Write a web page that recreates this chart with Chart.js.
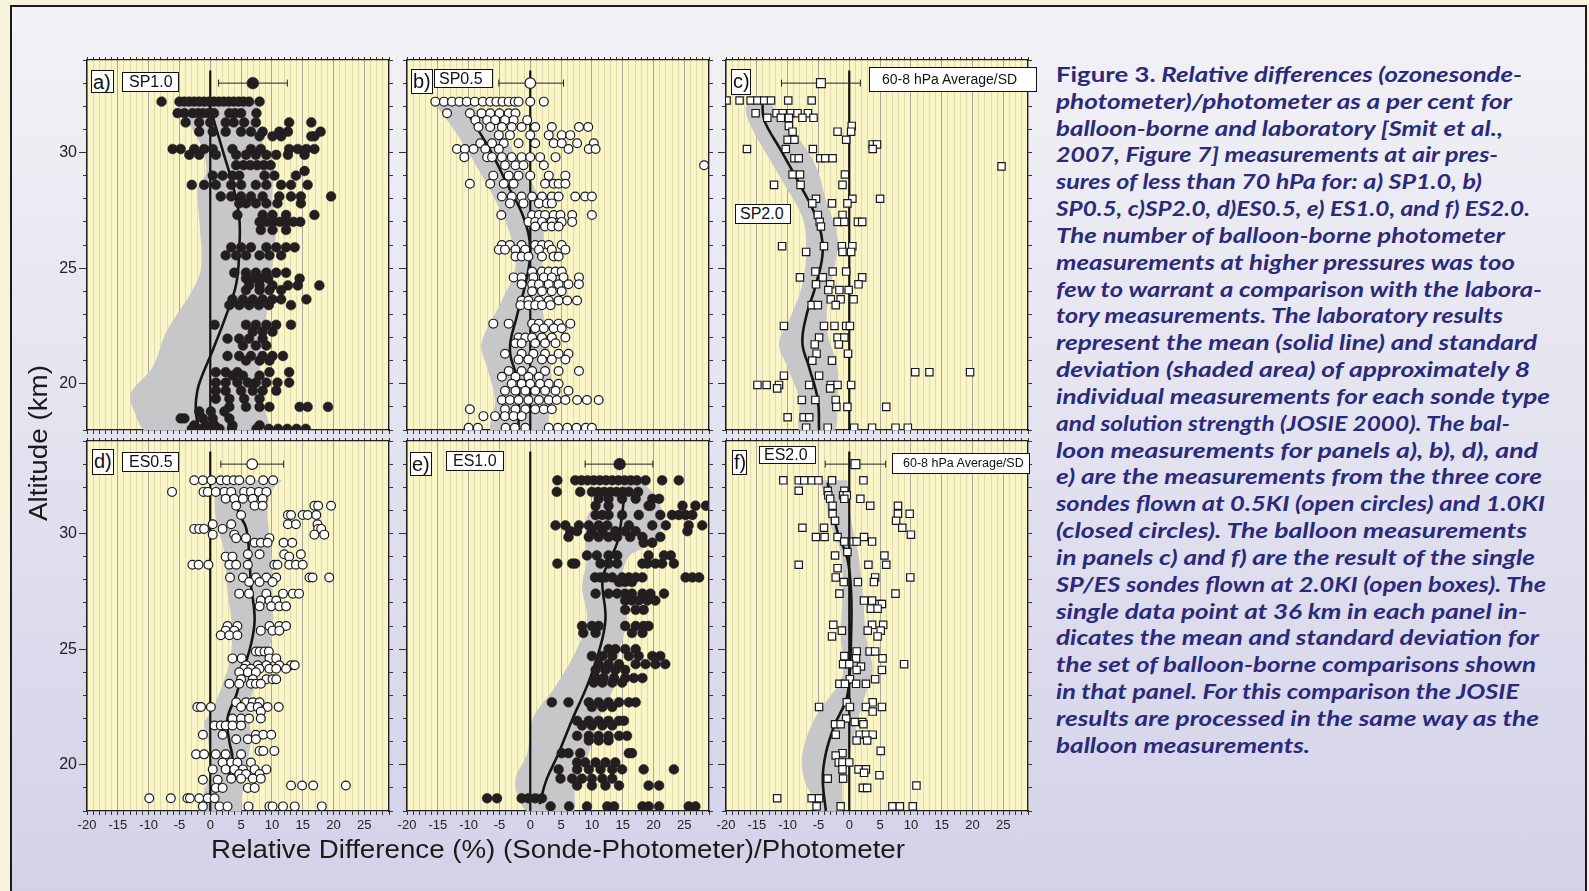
<!DOCTYPE html>
<html>
<head>
<meta charset="utf-8">
<script src="https://cdn.jsdelivr.net/npm/chart.js@4.4.1/dist/chart.umd.min.js"></script>
<style>
  html, body { margin: 0; padding: 0; }
  body {
    width: 1589px; height: 891px; position: relative; overflow: hidden;
    background: #f6f5dc; font-family: "Liberation Sans", Arial, sans-serif;
  }
  #frame {
    position: absolute; left: 10px; top: 5px; width: 1573px; height: 900px;
    border: 2px solid #1c1c1c;
    background: linear-gradient(180deg, #f2f2f6 0%, #e4e3f0 45%, #d3d1e8 100%);
  }
  canvas { position: absolute; z-index: 1; }
  .lbl {
    position: absolute; z-index: 5; box-sizing: border-box; background: #fff;
    border: 1.5px solid #111; color: #111; font-size: 16px; line-height: 1;
    padding: 1px 0 0 6px; white-space: nowrap;
  }
  .tag { font-size: 20px; padding: 1px 0 0 1px; }
  .axt { position: absolute; z-index: 2; font-size: 26px; line-height: 1; color: #1a1a1a; white-space: nowrap; }
  .axt span { display: inline-block; transform-origin: 0 50%; }
  #caption {
    position: absolute; left: 1056px; top: 61px; z-index: 2;
    font-family: Lato, "Open Sans", sans-serif; font-weight: 700; font-style: italic;
    font-size: 21px; line-height: 26.84px; color: #2a2a7b;
  }
  #caption .ln { white-space: nowrap; height: 26.84px; }
  #caption .ln span { display: inline-block; transform-origin: 0 50%; }
  #caption .up { font-style: normal; }
</style>
</head>
<body>
<div id="frame"></div>

<!-- panel tags -->
<div class="lbl tag" style="left:91px;top:70px;width:23px;height:23px;">a)</div>
<div class="lbl" style="left:122px;top:72px;width:57px;height:20px;">SP1.0</div>
<div class="lbl tag" style="left:411px;top:69px;width:22px;height:25px;">b)</div>
<div class="lbl" style="left:434px;top:69px;width:59px;height:19px;padding-left:4px;">SP0.5</div>
<div class="lbl tag" style="left:731px;top:69px;width:20px;height:26px;">c)</div>
<div class="lbl" style="left:869px;top:67px;width:168px;height:25px;font-size:14px;padding:4px 0 0 12px;">60-8 hPa Average/SD</div>
<div class="lbl" style="left:735px;top:204px;width:56px;height:20px;padding-left:4px;">SP2.0</div>
<div class="lbl tag" style="left:92px;top:449px;width:22px;height:26px;">d)</div>
<div class="lbl" style="left:122px;top:452px;width:57px;height:20px;">ES0.5</div>
<div class="lbl tag" style="left:410px;top:452px;width:22px;height:24px;">e)</div>
<div class="lbl" style="left:446px;top:451px;width:58px;height:20px;">ES1.0</div>
<div class="lbl tag" style="left:732px;top:450px;width:15px;height:25px;">f)</div>
<div class="lbl" style="left:759px;top:446px;width:57px;height:18px;padding:0 0 0 4px;">ES2.0</div>
<div class="lbl" style="left:892px;top:453px;width:138px;height:21px;font-size:12.5px;padding:3px 0 0 10px;">60-8 hPa Average/SD</div>

<!-- axis titles: rotated one is built horizontally then turned -->
<div id="ytitle" class="axt" style="left:25px;top:443px;transform-origin:0 0;transform:rotate(-90deg) translate(-78px,0);"><span>Altitude (km)</span></div>
<div id="xtitle" class="axt" style="left:211px;top:836px;"><span>Relative Difference (%) (Sonde-Photometer)/Photometer</span></div>

<div id="caption">
<div class="ln"><span><span class="up">Figure 3.</span> Relative differences (ozonesonde-</span></div>
<div class="ln"><span>photometer)/photometer as a per cent for</span></div>
<div class="ln"><span>balloon-borne and laboratory [Smit et al.,</span></div>
<div class="ln"><span>2007, Figure 7] measurements at air pres-</span></div>
<div class="ln"><span>sures of less than 70 hPa for: a) SP1.0, b)</span></div>
<div class="ln"><span>SP0.5, c)SP2.0, d)ES0.5, e) ES1.0, and f) ES2.0.</span></div>
<div class="ln"><span>The number of balloon-borne photometer</span></div>
<div class="ln"><span>measurements at higher pressures was too</span></div>
<div class="ln"><span>few to warrant a comparison with the labora-</span></div>
<div class="ln"><span>tory measurements. The laboratory results</span></div>
<div class="ln"><span>represent the mean (solid line) and standard</span></div>
<div class="ln"><span>deviation (shaded area) of approximately 8</span></div>
<div class="ln"><span>individual measurements for each sonde type</span></div>
<div class="ln"><span>and solution strength (JOSIE 2000). The bal-</span></div>
<div class="ln"><span>loon measurements for panels a), b), d), and</span></div>
<div class="ln"><span>e) are the measurements from the three core</span></div>
<div class="ln"><span>sondes flown at 0.5KI (open circles) and 1.0KI</span></div>
<div class="ln"><span>(closed circles). The balloon measurements</span></div>
<div class="ln"><span>in panels c) and f) are the result of the single</span></div>
<div class="ln"><span>SP/ES sondes flown at 2.0KI (open boxes). The</span></div>
<div class="ln"><span>single data point at 36 km in each panel in-</span></div>
<div class="ln"><span>dicates the mean and standard deviation for</span></div>
<div class="ln"><span>the set of balloon-borne comparisons shown</span></div>
<div class="ln"><span>in that panel. For this comparison the JOSIE</span></div>
<div class="ln"><span>results are processed in the same way as the</span></div>
<div class="ln"><span>balloon measurements.</span></div>
</div>

<script>
// =====================
// AXES
// =====================
const X_MIN = -20, X_MAX = 29;
const Y_MIN = 18, Y_MAX = 34;
const ERR_ALT = 33.0;   // altitude of the summary point (mean/SD)
const ZERO_TOP = 33.55;

// ---------- PANEL a) SP1.0 (closed circles) ----------
// [altitude km, [relative differences %]]
const ptsA = [
  [32.2, [-7.9, -5.0, -4.2, -3.4, -2.6, -1.8, -1.0, -0.2, 0.6, 1.4, 2.2, 3.0, 3.8, 4.6, 5.4, 6.3, 8.0]],
  [31.7, [-5.3, -4.2, -2.9, -2.0, -1.2, -0.3, 0.6, 3.1, 4.0, 5.0, 7.5]],
  [31.3, [-4.0, -1.8, 0.0, 2.5, 3.8, 5.5, 7.4, 12.8, 16.4]],
  [30.9, [-1.8, 0.4, 2.5, 5.0, 6.6, 8.5, 11.2, 12.6, 17.9]],
  [30.7, [8.0, 10.1, 11.5, 16.4, 16.9]],
  [30.15, [-6.1, -4.8, -2.6, -1.0, 0.4, 3.6, 6.6, 8.2, 12.8, 14.2, 15.6, 16.9]],
  [29.9, [-3.4, -1.8, 0.9, 4.2, 5.8, 7.4, 9.1, 10.7, 12.6, 15.3]],
  [29.45, [4.2, 5.4, 6.5, 7.6, 8.7, 9.8]],
  [29.2, [15.3]],
  [29.0, [0.4, 2.0, 3.6, 4.7, 8.8, 10.4, 13.9]],
  [28.6, [-3.0, -1.0, 0.9, 3.4, 5.0, 7.4, 9.1, 11.5, 13.1, 15.8]],
  [28.1, [1.7, 3.4, 5.0, 6.6, 8.5, 11.2, 13.1, 14.7, 19.6]],
  [27.8, [4.7, 5.8, 7.4, 9.1, 10.9, 14.7]],
  [27.3, [4.4, 8.5, 10.1, 12.3, 16.9]],
  [27.0, [8.0, 9.1, 10.2, 11.3, 12.4, 13.5, 14.6]],
  [26.65, [8.2, 10.1, 12.3]],
  [25.9, [3.4, 5.0, 6.6, 9.1, 10.7, 12.3, 13.7]],
  [25.55, [2.5, 4.2, 5.8, 8.0, 9.6, 11.5]],
  [24.8, [3.9, 5.8, 7.4, 9.1, 10.7, 12.3]],
  [24.55, [5.8, 7.0, 8.2, 9.4, 14.5]],
  [24.25, [6.3, 8.0, 10.1, 12.6, 14.2, 17.7]],
  [24.05, [5.8, 8.0, 9.6, 11.5]],
  [23.65, [3.6, 5.3, 6.9, 8.5, 10.1, 11.5, 15.6]],
  [23.4, [3.1, 4.7, 6.3, 7.9, 9.5, 13.1]],
  [22.55, [0.7, 5.8, 7.4, 9.1, 10.7, 13.1]],
  [22.25, [6.9, 8.5, 10.1]],
  [21.95, [2.8, 4.7, 6.3, 8.5]],
  [21.65, [5.3, 7.4, 9.1]],
  [21.2, [2.8, 4.7, 6.6, 8.5, 10.1, 11.8]],
  [21.0, [5.8, 8.0, 9.6]],
  [20.5, [0.9, 2.5, 4.4, 9.6, 12.8]],
  [20.35, [3.6, 5.3, 8.0]],
  [20.05, [0.9, 2.5, 4.4, 6.1, 7.4, 9.1, 10.9, 12.8]],
  [19.7, [0.9, 2.5, 5.0, 6.9, 8.5, 10.7]],
  [19.35, [0.9, 3.1, 5.5, 8.0]],
  [19.0, [3.1, 5.8, 8.0, 9.6, 14.5, 15.8, 19.1]],
  [18.8, [-1.8, 0.1, 2.3]],
  [18.5, [-4.8, -4.2, -1.2, 0.4, 3.1]],
  [18.2, [-2.6, -0.7, 0.7, 3.6, 8.0]],
  [18.05, [-3.0, -1.5, 0.5, 1.5, 3.5, 7.5, 9.5, 11.0, 12.5, 14.0, 15.5]],
];
const meanA = [[-0.2, 32.1], [2.0, 30.1], [3.6, 28.65], [4.7, 27.2], [4.7, 25.8], [4.2, 24.3], [2.5, 22.9], [0.4, 21.45], [-1.8, 20.0], [-2.3, 19.3], [-2.3, 18.7], [-1.8, 18.0]];
const bandLA = [[-5.9, 32.2], [-2.9, 31.0], [-1.2, 30.1], [-0.7, 29.1], [-2.1, 28.4], [-1.8, 27.2], [-1.5, 25.05], [-2.9, 24.05], [-7.2, 22.2], [-9.4, 20.7], [-12.9, 19.6], [-12.6, 19.0], [-10.0, 17.9]];
const bandRA = [[7.7, 32.2], [8.0, 30.8], [10.1, 29.4], [10.1, 27.9], [10.7, 26.9], [10.1, 25.05], [9.1, 22.9], [8.0, 20.7], [8.5, 19.3], [9.0, 17.9]];
const errA = [6.9, 1.35, 12.5]; // mean, mean-SD, mean+SD

// ---------- PANEL b) SP0.5 (open circles) ----------
const ptsB = [
  [32.2, [-15.4, -14.0, -12.7, -11.5, -10.3, -9.0, -7.7, -6.5, -5.5, -4.5, -3.5, -2.5, -1.9, 0.0, 2.2]],
  [31.7, [-13.5, -9.8, -7.9, -6.5, -5.0, -3.5, -2.4]],
  [31.4, [-8.9, -7.0, -5.7, -4.1, -2.7, -0.5]],
  [31.1, [-8.4, -6.5, -4.6, -3.0, -1.4, 0.8, 3.5, 7.9, 9.4]],
  [30.75, [-5.1, -3.3, 0.0, 3.0, 5.1, 6.5]],
  [30.4, [-8.1, -6.2, -4.3, -1.9, 0.8, 3.8, 5.1, 7.6, 10.3]],
  [30.15, [-11.9, -10.6, -9.2, -7.3, -5.1, 6.2, 9.5, 10.6]],
  [29.8, [-10.7, -7.0, -6.2, -4.6, -3.0, -1.4, 0.0, 1.6, 4.1]],
  [29.45, [-4.1, -2.4, -1.1, 2.2, 28.2]],
  [29.0, [-6.0, -3.5, -1.9, 0.0, 3.0, 5.7]],
  [28.65, [-9.8, -6.5, -4.3, -2.7, 2.4, 3.8, 4.6, 5.7]],
  [28.1, [-4.6, -3.0, -1.4, 0.3, 1.9, 3.5, 4.6, 7.3, 8.9, 10.0]],
  [27.8, [-3.3, -1.1, 1.4, 2.7, 3.5]],
  [27.3, [-4.7, 0.3, 1.4, 2.4, 3.8, 4.9, 6.8, 10.0]],
  [27.0, [-0.3, 0.8, 1.9, 3.5, 5.1, 6.8]],
  [26.8, [0.8, 2.4, 3.5, 4.6]],
  [26.0, [-4.6, -3.3, -1.4, 0.8, 1.9, 3.0, 5.1]],
  [25.8, [-5.1, -4.1, -2.4, -0.8, 1.4, 3.5, 5.7]],
  [25.5, [-2.4, -1.4, -0.3, 1.9, 3.8, 4.6]],
  [24.85, [0.3, 1.9, 3.0, 4.1, 5.1]],
  [24.6, [-2.7, -1.4, 0.5, 2.2, 3.5, 5.4, 7.9]],
  [24.3, [-1.4, 0.3, 1.4, 3.0, 4.6, 6.2, 7.9]],
  [24.0, [0.3, 1.9, 3.5, 5.1]],
  [23.6, [-1.4, -0.3, 1.4, 3.0, 4.6, 6.0, 7.6]],
  [23.4, [-1.6, -0.3, 0.8, 1.9, 3.3]],
  [22.6, [-6.0, -3.5, 0.3, 1.4, 3.0, 4.6, 6.5]],
  [22.4, [0.8, 2.2, 3.8, 5.1]],
  [22.0, [-1.9, -0.8, 0.3, 1.9, 3.5, 5.7]],
  [21.75, [-2.4, -1.4, 0.8, 2.4, 4.1]],
  [21.3, [-4.1, -1.4, 0.5, 2.4, 4.6, 6.2]],
  [21.05, [-1.9, -0.3, 1.9, 3.5, 5.7]],
  [20.55, [-3.5, -1.4, 0.3, 2.4, 4.6, 7.9]],
  [20.3, [-4.6, -2.4, -0.3, 1.4]],
  [20.0, [-3.0, -1.4, 0.0, 1.6, 3.0, 4.6]],
  [19.7, [-4.1, -2.4, -0.8, 0.8, 2.4, 4.1, 6.2]],
  [19.3, [-4.6, -3.3, -1.9, -0.3, 1.4, 3.0, 4.3, 5.7, 7.6, 9.2, 11.1]],
  [18.9, [-9.8, -4.1, -2.4, -0.8, 0.8, 2.2, 3.5]],
  [18.6, [-7.6, -5.7, -4.1, -2.7, -1.4]],
  [18.1, [-10.0, -8.5, -4.0, -2.5, -0.8, 3.0, 4.5, 6.0, 7.5, 9.0, 10.0]],
];
const meanB = [[-9.8, 31.55], [-6.5, 30.1], [-3.8, 28.65], [-1.1, 27.2], [0.0, 25.8], [-0.8, 24.3], [-2.2, 22.9], [-3.3, 21.45], [-1.9, 20.0], [-1.9, 18.55], [-1.9, 18.0]];
const bandLB = [[-15.7, 32.2], [-11.9, 30.8], [-8.7, 29.4], [-5.7, 27.95], [-3.3, 26.5], [-2.4, 25.05], [-4.6, 23.6], [-7.9, 21.75], [-7.0, 20.7], [-5.7, 19.3], [-6.2, 17.9]];
const bandRB = [[-10.0, 32.2], [-4.6, 30.8], [-1.4, 29.4], [0.8, 28.4], [1.9, 27.2], [2.2, 25.8], [1.4, 24.3], [2.2, 22.9], [3.0, 21.45], [3.5, 20.0], [3.0, 18.55], [2.5, 17.9]];
const errB = [0.0, -5.1, 5.4];

// ---------- PANEL c) SP2.0 (open boxes) ----------
const ptsC = [
  [32.25, [-19.9, -17.8, -16.0, -14.9, -13.8, -12.7, -9.9, -6.1]],
  [31.7, [-15.2, -11.8, -10.8, -9.5, -8.4, -6.7]],
  [31.5, [-13.3, -11.1, -9.8, -7.6, -5.8]],
  [31.15, [-9.8, 0.4]],
  [30.9, [-9.2, -1.9, 0.3]],
  [30.55, [-10.0, -8.9, -0.5]],
  [30.35, [3.8, 4.5]],
  [30.15, [-16.6, -10.3, -5.9, 3.8]],
  [29.75, [-8.9, -8.2, -4.7, -3.9, -2.7]],
  [29.4, [24.7]],
  [29.05, [-9.2, -8.0, -0.7]],
  [28.6, [-12.2, -7.9, -1.1]],
  [28.0, [-5.4, 0.5, 5.0]],
  [27.8, [-6.0, -2.8, -0.3]],
  [27.3, [-5.1, -1.1]],
  [27.0, [-4.8, -1.9, -0.8, 1.4, 2.1]],
  [26.8, [-4.6]],
  [25.95, [-10.9, -4.1, -1.2, 0.5]],
  [25.7, [-7.0, -1.1, 0.3]],
  [24.85, [-5.5, -2.7, -0.5]],
  [24.6, [-8.0, -4.3, 2.1]],
  [24.3, [-5.4, -3.1, 1.5]],
  [24.05, [-3.4, -1.6, -0.1]],
  [23.65, [-3.0, -1.4, 0.7]],
  [23.4, [-6.1, -5.1, -2.2]],
  [22.5, [-10.6, -4.1, -2.4, -0.5, 0.1]],
  [22.0, [-4.9, -1.9, -0.8]],
  [21.7, [-5.6, -1.7]],
  [21.3, [-5.3, -0.2]],
  [21.0, [-6.0, -2.8]],
  [20.5, [10.7, 13.0, 19.6]],
  [20.35, [-10.6, -4.9]],
  [19.95, [-14.9, -13.4, -11.4, -6.5, -3.0, -1.9, 0.3]],
  [19.8, [-11.7, -3.1]],
  [19.3, [-7.7, -5.5, -2.2]],
  [19.0, [-2.1, -0.3, 6.0]],
  [18.55, [-10.0, -7.4, -6.5]],
  [18.1, [-7.0, -3.5, 0.8, 3.7, 7.5, 9.5]],
];
const meanC = [[-14.1, 32.2], [-13.8, 31.4], [-11.1, 30.1], [-8.1, 28.65], [-5.4, 27.2], [-4.3, 25.8], [-5.4, 24.3], [-7.0, 22.9], [-7.6, 21.75], [-6.5, 20.7], [-5.1, 19.3], [-4.9, 18.0]];
const bandLC = [[-16.3, 32.35], [-16.8, 31.8], [-15.7, 31.0], [-13.8, 30.1], [-10.6, 28.65], [-7.6, 27.2], [-7.0, 25.8], [-7.6, 24.3], [-9.5, 22.9], [-11.4, 21.75], [-10.0, 20.7], [-8.1, 19.3], [-7.9, 17.9]];
const bandRC = [[-13.0, 32.35], [-11.5, 31.6], [-8.7, 30.8], [-5.4, 29.4], [-3.8, 27.95], [-1.9, 26.35], [-2.4, 25.05], [-3.5, 23.6], [-3.5, 22.2], [-1.9, 20.7], [-1.9, 19.3], [-2.7, 17.9]];
const errC = [-4.6, -11.0, 1.8];

// ---------- PANEL d) ES0.5 (open circles) ----------
const ptsD = [
  [32.3, [-2.6, -1.2, 0.2, 1.7, 2.7, 3.8, 4.7, 6.5, 8.6, 10.2]],
  [31.8, [-6.2, -1.1, -0.4, 0.9, 2.3, 3.4, 5.5, 6.6, 7.9, 9.1]],
  [31.5, [2.5, 3.9, 5.3, 6.9, 8.5]],
  [31.2, [4.2, 7.2, 8.5, 16.9, 17.5, 19.6]],
  [30.8, [5.0, 12.6, 13.1, 15.0, 15.8, 17.2]],
  [30.4, [0.4, 3.4, 12.6, 13.9, 17.4]],
  [30.2, [-2.6, -1.8, -1.0, 2.0, 17.5, 18.0]],
  [29.95, [0.4, 3.9, 16.9, 18.5]],
  [29.8, [4.2, 5.8, 9.6]],
  [29.6, [7.2, 8.2, 9.3, 11.9, 13.3]],
  [29.1, [6.1, 8.0, 12.0, 14.7]],
  [29.0, [2.5, 3.6, 12.8]],
  [28.65, [-2.9, -1.9, -0.3, 3.1, 4.2, 6.1, 10.4, 10.9, 12.8, 13.9, 15.0]],
  [28.1, [3.2, 5.3, 7.4, 9.1, 10.7, 16.1, 16.6, 19.3]],
  [27.9, [6.3, 8.0, 10.1]],
  [27.4, [4.7, 6.3, 9.1, 11.8, 13.4, 14.4]],
  [27.1, [8.2, 9.6, 10.7]],
  [26.85, [8.0, 9.9, 11.2, 12.3]],
  [26.0, [2.8, 4.4, 9.6, 11.2, 12.3]],
  [25.8, [2.5, 3.9, 8.2, 10.1, 11.2]],
  [25.6, [1.7, 3.1, 4.4]],
  [24.9, [7.4, 8.0, 8.8, 9.5]],
  [24.6, [3.6, 5.1, 9.6, 10.7]],
  [24.3, [5.8, 7.7, 9.1, 11.2, 13.1, 13.7]],
  [24.15, [5.5, 6.6, 8.0, 9.6, 10.7, 12.3]],
  [24.0, [4.7, 6.1, 7.4]],
  [23.7, [5.0, 6.9, 9.1, 10.1, 10.7]],
  [23.5, [3.1, 4.7, 6.6, 7.4, 8.2]],
  [22.7, [4.2, 5.8, 6.9, 8.0]],
  [22.5, [-2.1, -1.5, 0.1, 5.0, 6.6, 7.7, 9.3, 11.1]],
  [22.3, [8.2]],
  [22.0, [3.6, 5.0, 6.3, 8.2]],
  [21.7, [0.7, 1.7, 2.5, 3.6, 5.0]],
  [21.3, [-1.2, 2.0, 7.4, 8.6, 9.9]],
  [21.1, [4.2, 6.1, 7.4]],
  [20.6, [8.0, 8.6, 10.4]],
  [20.45, [-2.3, -1.0, 0.9, 2.5, 5.0]],
  [20.1, [2.0, 3.4, 4.4, 6.6]],
  [19.8, [0.4, 2.5, 3.9, 5.3, 7.2, 9.1]],
  [19.6, [4.7, 5.8, 8.0]],
  [19.4, [3.4, 5.0, 6.9, 8.2]],
  [19.35, [-1.2, 1.2]],
  [19.1, [13.1, 14.9, 16.7, 22.0]],
  [19.0, [0.9, 2.0, 6.1, 7.2]],
  [18.55, [-9.9, -6.4, -3.7, -3.3, -1.8, -0.4, 0.7]],
  [18.2, [-1.2, 1.5, 2.8, 6.2, 9.6, 10.1, 11.8, 13.7, 18.1]],
];
const meanD = [[4.0, 31.6], [4.7, 30.85], [5.8, 30.25], [6.3, 29.2], [6.6, 27.8], [7.2, 26.3], [6.6, 25.2], [5.5, 24.2], [4.2, 23.0], [2.8, 22.0], [3.1, 21.0], [3.6, 20.3], [3.0, 19.5]];
const bandLD = [[0.7, 32.3], [0.7, 31.8], [0.9, 30.6], [2.3, 29.2], [2.8, 27.45], [3.4, 26.3], [3.4, 24.85], [2.3, 23.7], [0.1, 22.25], [-1.0, 21.8], [-0.4, 21.1], [0.1, 19.8], [-1.2, 18.65], [-1.5, 17.9]];
const bandRD = [[11.7, 32.3], [10.1, 31.9], [9.3, 31.2], [9.6, 29.9], [10.1, 28.5], [10.1, 27.0], [10.1, 25.6], [8.0, 24.0], [6.3, 22.5], [6.6, 21.1], [5.8, 19.8], [5.0, 18.2], [5.0, 17.9]];
const errD = [6.8, 1.7, 11.9];

// ---------- PANEL e) ES1.0 (closed circles) ----------
const ptsE = [
  [32.3, [4.4, 7.3, 8.3, 9.3, 10.3, 11.3, 12.3, 13.3, 14.3, 15.3, 16.3, 17.3, 18.7, 21.4, 24.1]],
  [31.8, [4.3, 8.1, 10.0, 11.0, 12.0, 13.0, 14.0, 15.0, 16.0, 17.5]],
  [31.5, [11.1, 12.7, 14.9, 17.1, 19.8, 20.9]],
  [31.2, [10.6, 12.7, 19.2, 19.5, 24.7, 26.8, 28.5]],
  [30.8, [10.6, 11.7, 12.7, 14.9, 17.6, 21.1, 23.0, 24.1, 25.2, 26.3]],
  [30.35, [4.1, 5.7, 7.9, 9.5, 11.1, 12.5, 16.0, 19.8, 22.0, 25.7, 27.9]],
  [30.1, [6.5, 7.6, 10.0, 11.7, 13.8, 15.4, 17.1, 25.5]],
  [29.85, [6.2, 9.5, 11.1, 12.7, 14.1, 16.2, 18.2, 21.1]],
  [29.6, [18.4, 19.8]],
  [29.05, [9.2, 10.8, 12.7, 14.1, 19.2, 21.7, 22.8]],
  [28.7, [4.4, 6.8, 7.3, 11.4, 12.7, 14.1, 18.2, 19.0, 20.3, 21.4, 23.3]],
  [28.1, [10.5, 11.4, 12.2, 13.3, 14.9, 16.0, 17.1, 18.2, 25.2, 26.3, 27.4]],
  [27.9, [14.4, 15.4, 16.5]],
  [27.4, [10.6, 12.7, 14.1, 15.4, 16.5, 18.2, 19.5, 21.7]],
  [27.1, [15.4, 16.5, 17.6, 19.0, 20.3]],
  [26.7, [15.4, 17.1, 18.4]],
  [26.0, [8.4, 10.0, 11.1, 15.4, 17.1, 18.4, 19.2]],
  [25.7, [8.6, 10.6, 16.5, 18.2]],
  [25.0, [12.7, 13.8, 15.4, 17.1]],
  [24.7, [10.0, 11.7, 13.3, 16.0, 17.6, 19.8, 21.1]],
  [24.35, [11.1, 12.7, 14.4, 17.1, 18.7, 20.3, 21.9]],
  [24.1, [10.6, 12.2, 13.8, 15.4]],
  [23.75, [10.6, 11.9, 13.6, 15.4, 16.8, 18.2]],
  [23.55, [10.3, 11.7, 13.3, 14.9]],
  [22.7, [3.5, 6.2, 9.5, 11.1, 12.7, 14.4, 16.0, 17.1]],
  [22.5, [10.0, 11.7, 13.3]],
  [21.9, [7.6, 9.5, 11.1, 12.7, 14.4, 15.2]],
  [21.7, [8.4, 10.0, 11.7, 13.3]],
  [21.25, [7.6, 9.5, 11.1, 12.7, 14.4, 15.7]],
  [21.05, [9.5, 11.1, 12.7]],
  [20.5, [5.1, 6.2, 8.1, 16.0, 16.5]],
  [20.1, [7.6, 8.9, 10.6, 12.2, 13.8]],
  [19.8, [4.6, 7.6, 9.5, 11.4, 13.3, 14.9, 18.4, 23.3]],
  [19.4, [4.9, 6.8, 8.4, 10.0, 11.7, 13.3]],
  [19.1, [7.6, 10.0, 12.2, 14.4, 19.2, 20.9]],
  [18.55, [-7.0, -5.4, -1.4, -0.3, 0.8, 1.9]],
  [18.2, [3.3, 6.3, 9.2, 12.5, 13.6, 18.2, 19.2, 20.9, 25.7, 26.8]],
];
const meanE = [[15.2, 31.6], [14.9, 30.8], [14.1, 29.6], [12.7, 28.75], [11.7, 28.0], [12.2, 26.3], [11.1, 24.85], [9.2, 23.4], [6.8, 21.95], [4.6, 20.5], [2.7, 19.4], [1.9, 18.7], [1.5, 18.3]];
const bandLE = [[16.5, 32.25], [12.0, 31.4], [9.5, 30.9], [8.9, 29.9], [9.2, 28.9], [8.4, 27.7], [9.2, 26.3], [7.3, 24.85], [4.1, 23.4], [0.3, 21.95], [-0.5, 20.5], [-2.4, 19.35], [-1.6, 18.35], [0.3, 17.9]];
const bandRE = [[18.2, 32.25], [20.9, 31.35], [21.4, 30.3], [19.0, 29.5], [15.7, 28.9], [14.9, 27.45], [15.7, 26.3], [14.4, 24.85], [13.6, 23.4], [11.1, 21.95], [9.5, 20.5], [7.3, 19.05], [6.8, 17.9]];
const errE = [14.5, 8.9, 19.9];

// ---------- PANEL f) ES2.0 (open boxes) ----------
const ptsF = [
  [32.3, [-10.7, -8.2, -7.3, -6.1, -5.0, -2.8, 2.3]],
  [31.85, [-8.2, -3.5, -0.8]],
  [31.65, [-3.4, -1.0, -0.4]],
  [31.5, [-3.1, -0.8, 1.8]],
  [31.2, [-2.7, 3.4, 7.9]],
  [30.85, [-2.7, 7.9, 9.8]],
  [30.55, [-2.3, 7.6]],
  [30.25, [-7.6, -4.1, 8.6]],
  [29.95, [10.0]],
  [29.85, [-5.4, -4.0, -1.9, 2.4]],
  [29.65, [-0.8, 0.7, 1.2, 3.7]],
  [29.2, [-0.3]],
  [29.05, [-2.3, 5.7]],
  [28.65, [-8.2, 3.1, 6.0]],
  [28.5, [-1.9]],
  [28.1, [-2.2, 4.2, 9.9]],
  [27.9, [-0.9, 1.4, 4.0]],
  [27.4, [-1.6, 7.5]],
  [27.1, [2.4, 3.7]],
  [26.95, [4.9, 5.3]],
  [26.75, [3.5, 4.6]],
  [26.05, [-2.6, 3.7, 5.5]],
  [25.8, [-1.2, 3.0, 5.1]],
  [25.55, [-2.8, 4.6]],
  [24.9, [1.2, 3.3, 4.2]],
  [24.7, [-0.8]],
  [24.6, [1.1, 5.4]],
  [24.35, [-1.0, 0.0, 8.9]],
  [24.25, [1.9]],
  [24.1, [1.2, 5.3]],
  [23.7, [0.1, 4.2]],
  [23.5, [-1.6, -0.7, 1.1, 2.7]],
  [22.7, [-0.4, 3.8]],
  [22.5, [-4.9, 0.1, 2.7, 5.3]],
  [22.3, [3.8]],
  [22.0, [-0.5]],
  [21.85, [0.9, 2.1]],
  [21.75, [-2.3, -1.4, 2.3]],
  [21.3, [-2.2, 1.7, 2.7, 3.8]],
  [21.05, [1.2, 2.9]],
  [20.6, [5.1]],
  [20.5, [-1.1]],
  [20.4, [-2.2]],
  [20.1, [-1.7, -1.1, 0.0]],
  [19.8, [-1.1, 1.5, 2.7]],
  [19.65, [2.4]],
  [19.55, [4.9]],
  [19.4, [-3.5, -1.0]],
  [19.1, [10.9]],
  [19.0, [2.2, 2.9]],
  [18.55, [-11.7, -6.1, -4.9]],
  [18.2, [-5.3, -1.4, 7.0, 8.2, 10.3]],
];
const meanF = [[-3.5, 32.2], [-2.6, 31.0], [-1.9, 30.05], [-0.3, 28.9], [0.3, 27.45], [0.3, 25.6], [0.0, 23.7], [-0.5, 22.8], [-2.4, 21.7], [-3.8, 20.5], [-4.3, 19.4], [-3.8, 18.0]];
const bandLF = [[-5.3, 32.3], [-4.1, 31.8], [-3.3, 30.6], [-1.4, 29.2], [-1.1, 27.45], [-1.4, 25.55], [-1.1, 23.85], [-3.8, 22.7], [-5.7, 21.95], [-7.6, 20.5], [-7.3, 19.35], [-5.4, 18.35], [-5.0, 17.9]];
const bandRF = [[-0.3, 32.3], [0.3, 30.6], [1.4, 29.2], [2.2, 27.45], [2.7, 25.55], [3.8, 24.1], [2.7, 23.1], [1.4, 21.95], [0.0, 20.5], [-1.1, 19.1], [-1.4, 17.9]];
const errF = [1.0, -3.9, 5.9];

// caption line right edges (page px), used to fit the text width
const CAPTION_RIGHT = [1522, 1512, 1503, 1498, 1482, 1530, 1505, 1515, 1542, 1503, 1537, 1530, 1550,
  1510, 1538, 1542, 1545, 1527, 1535, 1546, 1527, 1539, 1536, 1519, 1539, 1310];

// ---------- HELPERS ----------
function rowsToPoints(rows) {
  const out = [];
  rows.forEach(([alt, xs]) => xs.forEach((x) => out.push({ x: x, y: alt })));
  return out;
}

const toXY = (arr) => arr.map(([x, y]) => ({ x, y }));

function bandShape(left, right) {
  return toXY(left.concat(right.slice().reverse()));
}

function fitWidth(el, target) {
  const w = el.getBoundingClientRect().width;
  if (w > 0) el.style.transform = `scaleX(${(target / w).toFixed(4)})`;
}

const MARKS = {
  filled: { pointStyle: "circle", pointRadius: 4.9, pointBackgroundColor: "#231f20", pointBorderColor: "#231f20", pointBorderWidth: 0.5 },
  open: { pointStyle: "circle", pointRadius: 4.4, pointBackgroundColor: "#ffffff", pointBorderColor: "#1a1a1a", pointBorderWidth: 1.2 },
  square: { pointStyle: "rect", pointRadius: 5.2, pointBackgroundColor: "#ffffff", pointBorderColor: "#1a1a1a", pointBorderWidth: 1.2 },
};

const plotBg = {
  id: "plotBg",
  beforeDraw(chart) {
    const a = chart.chartArea, ctx = chart.ctx;
    ctx.save();
    ctx.fillStyle = "#faf5c6";
    ctx.fillRect(a.left, a.top, a.right - a.left, a.bottom - a.top);
    ctx.restore();
  },
};

// ---------- PANELS ----------
const PW = 302, PH = 370;
const PAD = { l: 45, t: 12, r: 22, b: 30 };

const panels = [
  { left: 87, top: 60, pts: ptsA, mean: meanA, bl: bandLA, br: bandRA, err: errA, mark: "filled", yLab: true, xLab: false },
  { left: 407, top: 60, pts: ptsB, mean: meanB, bl: bandLB, br: bandRB, err: errB, mark: "open", yLab: false, xLab: false },
  { left: 726, top: 60, pts: ptsC, mean: meanC, bl: bandLC, br: bandRC, err: errC, mark: "square", yLab: false, xLab: false },
  { left: 87, top: 441, pts: ptsD, mean: meanD, bl: bandLD, br: bandRD, err: errD, mark: "open", yLab: true, xLab: true },
  { left: 407, top: 441, pts: ptsE, mean: meanE, bl: bandLE, br: bandRE, err: errE, mark: "filled", yLab: false, xLab: true },
  { left: 726, top: 441, pts: ptsF, mean: meanF, bl: bandLF, br: bandRF, err: errF, mark: "square", yLab: false, xLab: true },
];

function makePanel(p) {
  const canvas = document.createElement("canvas");
  canvas.width = PW + PAD.l + PAD.r;
  canvas.height = PH + PAD.t + PAD.b;
  canvas.style.left = p.left - PAD.l + "px";
  canvas.style.top = p.top - PAD.t + "px";
  document.body.appendChild(canvas);

  const mk = MARKS[p.mark];
  const border = { color: "#1e1e1e", width: 1.3 };
  const tickFont = { family: "'Liberation Sans', Arial, sans-serif" };

  new Chart(canvas, {
    type: "line",
    data: {
      datasets: [
        // summary point: mean and SD of the balloon comparison
        {
          data: [{ x: p.err[1], y: ERR_ALT }, { x: p.err[2], y: ERR_ALT }],
          showLine: true, borderColor: "#222", borderWidth: 1,
          pointStyle: "line", pointRotation: 90, pointRadius: 3.5,
          pointBorderColor: "#222", pointBorderWidth: 1, order: 1,
        },
        { data: [{ x: p.err[0], y: ERR_ALT }], showLine: false, ...mk, pointRadius: mk.pointRadius * 1.2, order: 0 },
        // balloon measurements
        { data: rowsToPoints(p.pts), showLine: false, ...mk, order: 2 },
        // laboratory mean
        { data: toXY(p.mean), showLine: true, borderColor: "#161616", borderWidth: 2.6, tension: 0.4, pointRadius: 0, order: 3 },
        // zero line
        { data: [{ x: 0, y: ZERO_TOP }, { x: 0, y: Y_MIN }], showLine: true, borderColor: "#111", borderWidth: 2.2, pointRadius: 0, order: 4 },
        // laboratory SD band
        {
          data: bandShape(p.bl, p.br), showLine: true, fill: "shape",
          backgroundColor: "#c7c7c9", borderColor: "rgba(0,0,0,0)", borderWidth: 0,
          tension: 0.35, pointRadius: 0, order: 5,
        },
      ],
    },
    options: {
      responsive: false,
      animation: false,
      events: [],
      layout: { padding: 0 },
      plugins: { legend: { display: false }, tooltip: { enabled: false } },
      scales: {
        x: {
          type: "linear", position: "bottom", min: X_MIN, max: X_MAX,
          afterFit: (s) => { s.height = PAD.b; },
          ticks: {
            stepSize: 1, autoSkip: false, maxRotation: 0, padding: 3, color: "#222",
            font: { ...tickFont, size: 13 },
            callback: (v) => (p.xLab && v % 5 === 0 && v <= 25 ? String(v) : ""),
          },
          grid: {
            color: (c) => (c.tick && c.tick.value % 5 === 0 ? "#a9a79c" : "rgba(150,145,110,0.25)"),
            lineWidth: 1, tickLength: 4, tickColor: "#333", tickWidth: 1,
          },
          border: border,
        },
        x2: {
          type: "linear", axis: "x", position: "top", min: X_MIN, max: X_MAX,
          afterFit: (s) => { s.height = PAD.t; },
          ticks: { stepSize: 1, autoSkip: false, maxRotation: 0, callback: () => "" },
          grid: { drawOnChartArea: false, tickLength: 3, tickColor: "#333" },
          border: border,
        },
        y: {
          type: "linear", position: "left", min: Y_MIN, max: Y_MAX,
          afterFit: (s) => { s.width = PAD.l; },
          ticks: {
            stepSize: 1, autoSkip: false, padding: 2, color: "#222",
            font: { ...tickFont, size: 16 },
            callback: (v) => (p.yLab && v % 5 === 0 ? String(v) : ""),
          },
          grid: {
            drawOnChartArea: false, tickLength: 8, tickColor: "#333",
            tickBorderDash: (c) => (c.tick && c.tick.value % 5 === 0 ? [] : [0, 4, 4, 50]),
          },
          border: border,
        },
        y2: {
          type: "linear", axis: "y", position: "right", min: Y_MIN, max: Y_MAX,
          afterFit: (s) => { s.width = PAD.r; },
          ticks: { stepSize: 1, autoSkip: false, callback: () => "" },
          grid: { drawOnChartArea: false, tickLength: 4, tickColor: "#333" },
          border: border,
        },
      },
    },
    plugins: [plotBg],
  });
}

panels.forEach(makePanel);

// ---------- TEXT FIT ----------
document.querySelectorAll("#caption .ln > span").forEach((el, i) => fitWidth(el, CAPTION_RIGHT[i] - 1056));
fitWidth(document.querySelector("#xtitle span"), 694);
// rotated title: measure before rotation is applied via offsetWidth
(function () {
  const s = document.querySelector("#ytitle span");
  const w = s.offsetWidth;
  if (w > 0) s.style.transform = `scaleX(${(156 / w).toFixed(4)})`;
  // centre the 156px run on y = 443
  document.getElementById("ytitle").style.transform = "rotate(-90deg) translate(-78px, 0)";
})();
</script>
</body>
</html>
